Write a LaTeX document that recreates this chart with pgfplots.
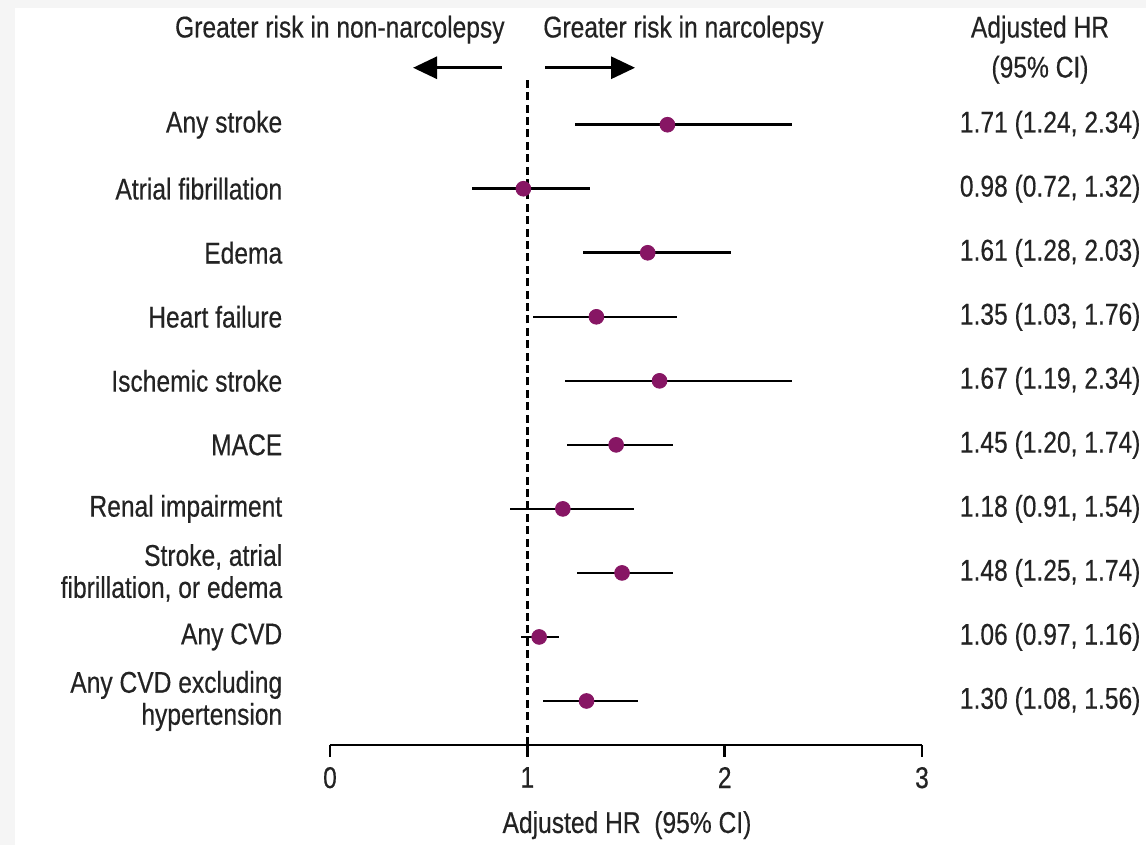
\documentclass[border=0pt]{standalone}
\usepackage{fontspec}
\setmainfont{Liberation Sans}[FakeStretch=0.82, FakeBold=0.4]
\usepackage{pgfplots}
\pgfplotsset{compat=1.18}
\usepackage{pgfplotstable}
\usetikzlibrary{arrows.meta}
\definecolor{dotc}{RGB}{135,22,100}
\definecolor{txt}{RGB}{35,35,35}
\pgfplotstableread{
y hr lo hi
10 1.71 1.24 2.34
9 0.98 0.72 1.32
8 1.61 1.28 2.03
7 1.35 1.03 1.76
6 1.67 1.19 2.34
5 1.45 1.20 1.74
4 1.18 0.91 1.54
3 1.48 1.25 1.74
2 1.06 0.97 1.16
1 1.30 1.08 1.56
}\hrdata
\tikzset{
  lab/.style={font=\fontsize{15}{16}\selectfont, text=txt, align=right, anchor=east, inner sep=0pt},
  val/.style={font=\fontsize{15}{16}\selectfont, text=txt, anchor=west, inner sep=0pt},
  hd/.style={font=\fontsize{15}{16}\selectfont, text=txt, inner sep=0pt},
}
\begin{document}
\begin{tikzpicture}[x=1pt,y=1pt]
\fill[gray!8] (-165,-50) rectangle (408,372.5);
\fill[white] (-157.5,-50) rectangle (408,368.5);
\useasboundingbox (-165,-50) rectangle (408,372.5);
\begin{axis}[at={(0,0)}, anchor=south west, scale only axis,
  width=296pt, height=333.5pt,
  xmin=0, xmax=3, ymin=0.3125, ymax=10.73,
  axis y line=none, axis x line=bottom,
  x axis line style={-, line width=1.3pt, black},
  xtick={0,1,2,3}, tick align=outside, major tick length=6pt,
  tick style={line width=1.3pt, black}, ytick=\empty,
  clip=false,
  /pgf/number format/assume math mode=true,
  xticklabel style={font=\fontsize{15}{16}\selectfont, text=txt, yshift=-1.5pt},
]
\addplot[black, line width=1.3pt, dash pattern=on 4pt off 2.2pt] coordinates {(1,0.3125) (1,10.73)};
\addplot[draw=none, mark=none, error bars/.cd, x dir=both, x explicit, error mark=none,
  error bar style={black, line width=1.3pt}]
  table[x=hr, y=y, x error plus expr=\thisrow{hi}-\thisrow{hr}, x error minus expr=\thisrow{hr}-\thisrow{lo}] {\hrdata};
\addplot[only marks, mark=*, mark size=3.7pt, color=dotc] table[x=hr, y=y] {\hrdata};
% row labels
\node[lab] at (axis cs:-0.24,10) {Any stroke};
\node[lab] at (axis cs:-0.24,9) {Atrial fibrillation};
\node[lab] at (axis cs:-0.24,8) {Edema};
\node[lab] at (axis cs:-0.24,7) {Heart failure};
\node[lab] at (axis cs:-0.24,6) {Ischemic stroke};
\node[lab] at (axis cs:-0.24,5) {MACE};
\node[lab] at (axis cs:-0.24,4) {Renal impairment};
\node[lab] at (axis cs:-0.24,3) {Stroke, atrial\\fibrillation, or edema};
\node[lab] at (axis cs:-0.24,2) {Any CVD};
\node[lab] at (axis cs:-0.24,1) {Any CVD excluding\\hypertension};
% values
\node[val] at (axis cs:3.19,10) {1.71 (1.24, 2.34)};
\node[val] at (axis cs:3.19,9) {0.98 (0.72, 1.32)};
\node[val] at (axis cs:3.19,8) {1.61 (1.28, 2.03)};
\node[val] at (axis cs:3.19,7) {1.35 (1.03, 1.76)};
\node[val] at (axis cs:3.19,6) {1.67 (1.19, 2.34)};
\node[val] at (axis cs:3.19,5) {1.45 (1.20, 1.74)};
\node[val] at (axis cs:3.19,4) {1.18 (0.91, 1.54)};
\node[val] at (axis cs:3.19,3) {1.48 (1.25, 1.74)};
\node[val] at (axis cs:3.19,2) {1.06 (0.97, 1.16)};
\node[val] at (axis cs:3.19,1) {1.30 (1.08, 1.56)};
% headers
\node[hd] at (axis cs:3.598,11.484) {Adjusted HR};
\node[hd] at (axis cs:3.598,10.859) {(95\% CI)};
\node[hd, anchor=east] at (axis cs:0.887,11.484) {Greater risk in non-narcolepsy};
\node[hd, anchor=west] at (axis cs:1.079,11.484) {Greater risk in narcolepsy};
\draw[line width=1.5pt, -{Triangle[length=12pt,width=11pt]}] (axis cs:0.872,10.89) -- (axis cs:0.421,10.89);
\draw[line width=1.5pt, -{Triangle[length=12pt,width=11pt]}] (axis cs:1.09,10.89) -- (axis cs:1.546,10.89);
\node[hd] at (axis cs:1.505,-0.94) {Adjusted HR\ \ (95\% CI)};
\end{axis}
\end{tikzpicture}
\end{document}
